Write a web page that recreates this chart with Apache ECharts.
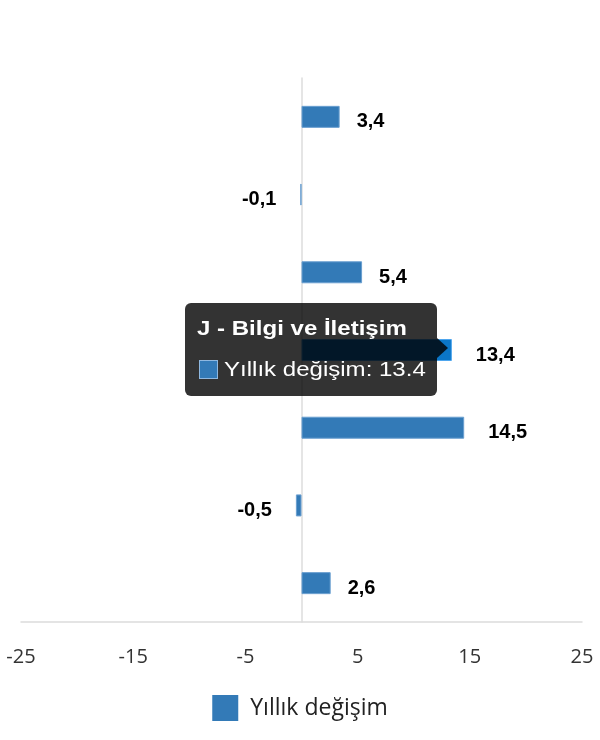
<!DOCTYPE html>
<html>
<head>
<meta charset="utf-8">
<script src="https://cdn.jsdelivr.net/npm/echarts@6/dist/echarts.min.js"></script>
<style>
html,body{margin:0;padding:0;background:#fff;}
#chart{width:600px;height:740px;position:relative;}
</style>
</head>
<body>
<div id="chart"></div>
<script>
const categories = [
  "Toplam Hizmet",
  "H - Ulaştırma ve Depolama",
  "I - Konaklama ve Yiyecek Hizmeti",
  "J - Bilgi ve İletişim",
  "L - Gayrimenkul Faaliyetleri",
  "M - Mesleki, Bilimsel ve Teknik Faaliyetler",
  "N - İdari ve Destek Hizmet Faaliyetleri"
];
const seriesName = "Yıllık değişim";
const values = [3.4, -0.1, 5.4, 13.4, 14.5, -0.5, 2.6];
const tickLabels = [-25, -15, -5, 5, 15, 25];
const axisMin = -25, axisMax = 25;
const tooltipIndex = 3;

const fmt = v => String(v).replace('.', ',');

const chart = echarts.init(document.getElementById('chart'));
const barData = values.map(v => {
  const txt = fmt(v);
  return {
    value: v,
    label: {
      position: v < 0 ? 'left' : 'right',
      distance: txt.length <= 3 ? 17 : 24
    }
  };
});

const stretch = 'display:inline-block;transform:scaleX(1.145);transform-origin:0 50%;';

chart.setOption({
  animation: false,
  grid: { left: 21, right: 18, top: 78, bottom: 118, containLabel: false },
  legend: {
    top: 690,
    left: 'center',
    icon: 'rect',
    itemWidth: 26,
    itemHeight: 26,
    selectedMode: false,
    itemStyle: { borderWidth: 0, color: '#337ab7' },
    textStyle: { fontFamily: 'Open Sans', fontSize: 23, color: '#222', padding: [0, 0, 0, 7] },
    data: [seriesName]
  },
  tooltip: {
    trigger: 'item',
    triggerOn: 'none',
    alwaysShowContent: true,
    transitionDuration: 0,
    position: [185, 303],
    backgroundColor: 'rgba(0,0,0,0.8)',
    borderWidth: 0,
    padding: [12, 12, 14, 12],
    extraCssText: 'box-shadow:none;border-radius:6px;width:228px;box-sizing:content-box;overflow:visible;',
    textStyle: { color: '#fff' },
    formatter: p => {
      return '<div style="position:relative;font-family:Liberation Sans,Arial,sans-serif;color:#fff;white-space:nowrap;">' +
        '<div style="font-weight:bold;font-size:21px;line-height:26px;"><span style="' + stretch + '">' + categories[p.dataIndex] + '</span></div>' +
        '<div style="font-size:21px;line-height:26px;margin-top:15px;display:flex;align-items:center;">' +
          '<span style="display:inline-block;width:17px;height:17px;background:#337ab7;border:1px solid #8fb8e0;margin-left:2px;margin-right:6px;"></span>' +
          '<span style="' + stretch + '">' + p.seriesName + ': ' + p.value + '</span>' +
        '</div>' +
        '<div style="position:absolute;right:-23px;top:23px;width:0;height:0;border-left:11px solid rgba(0,0,0,0.8);border-top:10px solid transparent;border-bottom:10px solid transparent;"></div>' +
        '</div>';
    }
  },
  xAxis: {
    type: 'value',
    min: axisMin,
    max: axisMax,
    axisLine: { show: true, lineStyle: { color: '#dcdcdc', width: 1.5 } },
    axisTick: { show: false },
    splitLine: { show: false },
    axisLabel: {
      customValues: tickLabels,
      margin: 25,
      fontFamily: 'Open Sans',
      fontSize: 20,
      color: '#333'
    }
  },
  yAxis: {
    type: 'category',
    inverse: true,
    data: categories,
    axisLine: { show: true, onZero: true, lineStyle: { color: '#dcdcdc', width: 1.5 } },
    axisTick: { show: false },
    axisLabel: { show: false },
    splitLine: { show: false }
  },
  series: [{
    name: seriesName,
    type: 'bar',
    barWidth: 22,
    data: barData,
    itemStyle: { color: '#337ab7', borderColor: '#6a9fd0', borderWidth: 1 },
    label: {
      show: true,
      formatter: p => fmt(p.value),
      fontFamily: 'Liberation Sans',
      fontWeight: 'bold',
      fontSize: 20,
      color: '#000',
      offset: [0, 5]
    },
    emphasis: {
      focus: 'none',
      itemStyle: { color: '#0b76c8', borderColor: '#4ea6ee', borderWidth: 1 },
      label: { show: true }
    }
  }]
});

setTimeout(() => {
  chart.dispatchAction({ type: 'highlight', seriesIndex: 0, dataIndex: tooltipIndex });
  chart.dispatchAction({ type: 'showTip', seriesIndex: 0, dataIndex: tooltipIndex });
}, 50);
</script>
</body>
</html>
